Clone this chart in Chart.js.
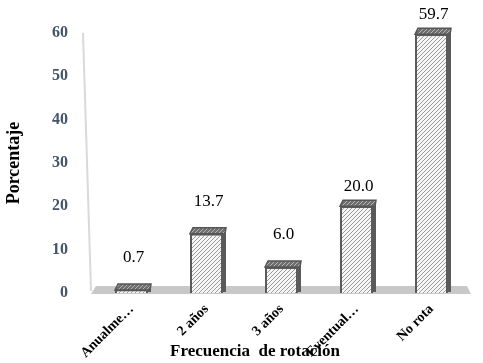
<!DOCTYPE html>
<html>
<head>
<meta charset="utf-8">
<script src="https://cdn.jsdelivr.net/npm/chart.js@4/dist/chart.umd.min.js"></script>
<style>
  html, body { margin: 0; padding: 0; background: #fff; }
  #wrap { width: 483px; height: 363px; }
</style>
</head>
<body>
<div id="wrap"><canvas id="myChart"></canvas></div>
<script>
// data
const categories = ["Anualme…", "2 años", "3 años", "Eventual…", "No rota"];
const porcentaje = [0.7, 13.7, 6.0, 20.0, 59.7];
const yTicks = [0, 10, 20, 30, 40, 50, 60];

// hatch fills
function makeHatch(bg, fg, size) {
    let c = document.createElement("canvas");
    c.width = size; c.height = size;
    let g = c.getContext("2d");
    g.fillStyle = bg;
    g.fillRect(0, 0, size, size);
    g.strokeStyle = fg;
    g.lineWidth = 1;
    g.beginPath();
    g.moveTo(0, size); g.lineTo(size, 0);
    g.moveTo(-1, 1); g.lineTo(1, -1);
    g.moveTo(size - 1, size + 1); g.lineTo(size + 1, size - 1);
    g.stroke();
    return g.createPattern(c, "repeat");
}

let ctx = document.getElementById("myChart").getContext("2d");
let faceFill = makeHatch("#f6f6f6", "#9a9a9a", 4);
let capFill = makeHatch("#6e6e6e", "#b5b5b5", 4);

// floor, slanted axis line, bar caps, value labels, x title
const decor = {
    id: "decor",
    beforeDatasetsDraw(chart) {
        let a = chart.chartArea, c = chart.ctx;
        c.save();
        // axis line
        c.strokeStyle = "#d9d9d9";
        c.lineWidth = 2;
        c.beginPath();
        c.moveTo(a.left - 11, a.top);
        c.lineTo(a.left - 3, a.bottom - 2);
        c.stroke();
        // floor
        c.fillStyle = "#c8c8c8";
        c.beginPath();
        c.moveTo(a.left + 2, a.bottom - 7);
        c.lineTo(a.right - 2, a.bottom - 7);
        c.lineTo(a.right + 2, a.bottom + 1);
        c.lineTo(a.left - 3, a.bottom + 1);
        c.closePath();
        c.fill();
        c.restore();
    },
    afterDatasetsDraw(chart) {
        let c = chart.ctx;
        let meta = chart.getDatasetMeta(0);
        c.save();
        meta.data.forEach((bar, i) => {
            let w = bar.width;
            let x0 = bar.x - w / 2, x1 = bar.x + w / 2, y = bar.y;
            // side face
            c.fillStyle = "#5a5a5a";
            c.fillRect(x1, y - 3, 3, bar.base - y + 2);
            // cap
            c.fillStyle = capFill;
            c.strokeStyle = "#555";
            c.lineWidth = 1.5;
            c.beginPath();
            c.moveTo(x0, y);
            c.lineTo(x0 + 3, y - 6);
            c.lineTo(x1 + 3, y - 6);
            c.lineTo(x1 + 2, y);
            c.closePath();
            c.fill();
            c.stroke();
            // value label
            let v = porcentaje[i];
            let off = v >= 20 ? 20 : 32;
            c.fillStyle = "#000";
            c.font = "17px 'Liberation Serif'";
            c.textAlign = "center";
            c.textBaseline = "middle";
            c.fillText(v.toFixed(1), bar.x + 2, y - off);
        });
        // x axis title
        c.fillStyle = "#000";
        c.font = "bold 17px 'Liberation Serif'";
        c.textAlign = "center";
        c.textBaseline = "middle";
        c.fillText("Frecuencia  de rotación", 255, 352);
        c.restore();
    }
};

let config = {
    type: "bar",
    data: {
        labels: categories,
        datasets: [{
            label: "Porcentaje",
            data: porcentaje,
            backgroundColor: faceFill,
            borderColor: "#5a5a5a",
            borderWidth: 2,
            borderSkipped: "bottom",
            barPercentage: 0.44,
            categoryPercentage: 1
        }]
    },
    options: {
        responsive: true,
        maintainAspectRatio: false,
        animation: false,
        layout: { padding: { left: 0, right: 14, top: 33, bottom: 0 } },
        plugins: {
            legend: { display: false },
            tooltip: { enabled: false }
        },
        scales: {
            x: {
                grid: { display: false },
                border: { display: false },
                afterFit: (axis) => { axis.height = 70; },
                ticks: {
                    color: "#000",
                    font: { family: "'Liberation Serif'", size: 14, weight: "bold" },
                    maxRotation: 45,
                    minRotation: 45,
                    padding: 0
                }
            },
            y: {
                min: 0,
                max: 60,
                afterBuildTicks: (axis) => { axis.ticks = yTicks.map(v => ({ value: v })); },
                afterFit: (axis) => { axis.width = 94; },
                grid: { display: false },
                border: { display: false },
                ticks: {
                    color: "#44546a",
                    font: { family: "'Liberation Serif'", size: 16, weight: "bold" },
                    padding: 18
                },
                title: {
                    display: true,
                    text: "Porcentaje",
                    color: "#000",
                    font: { family: "'Liberation Serif'", size: 18, weight: "bold" },
                    padding: { top: 4, bottom: 0 }
                }
            }
        }
    },
    plugins: [decor]
};

let myChart = new Chart(ctx, config);
</script>
</body>
</html>
